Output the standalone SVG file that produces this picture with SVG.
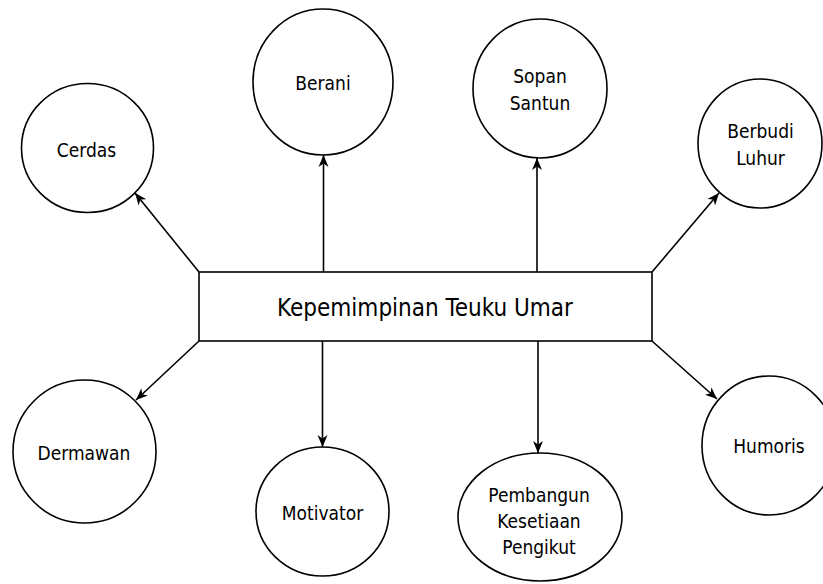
<svg xmlns="http://www.w3.org/2000/svg" width="823" height="584" viewBox="0 0 823 584">
<style>
.n{fill:#fff;stroke:#000;stroke-width:1.6}
.t{font-family:"DejaVu Sans Condensed","DejaVu Sans",sans-serif;font-size:19px;fill:#000;text-anchor:middle}
.c{stroke:#000;stroke-width:1.6;fill:none;marker-end:url(#a)}
</style>
<defs>
<marker id="a" markerUnits="userSpaceOnUse" markerWidth="13" markerHeight="11" refX="12" refY="5" orient="auto" viewBox="0 0 13 10">
<path d="M0,0 L12,5 L0,10 L3.5,5 z" fill="#000"/>
</marker>
</defs>
<rect width="823" height="584" fill="#fff"/>
<g id="connectors">
<line class="c" x1="199" y1="272" x2="135" y2="193"/>
<line class="c" x1="323.5" y1="272" x2="323.5" y2="155"/>
<line class="c" x1="537" y1="272" x2="537" y2="158"/>
<line class="c" x1="652" y1="272" x2="719" y2="193"/>
<line class="c" x1="199" y1="341" x2="136" y2="400"/>
<line class="c" x1="322.5" y1="341" x2="322.5" y2="447"/>
<line class="c" x1="538" y1="341" x2="538" y2="453"/>
<line class="c" x1="652" y1="341" x2="717" y2="399"/>
</g>
<g id="center">
<rect class="n" x="199" y="272" width="453" height="69"/>
<text class="t" x="425" y="316" style="font-size:24px">Kepemimpinan Teuku Umar</text>
</g>
<g id="cerdas">
<ellipse class="n" cx="87.5" cy="148" rx="66" ry="64.5"/>
<text class="t" x="86.5" y="157">Cerdas</text>
</g>
<g id="berani">
<ellipse class="n" cx="323" cy="82" rx="70" ry="73"/>
<text class="t" x="323" y="90">Berani</text>
</g>
<g id="sopan">
<ellipse class="n" cx="540" cy="88.5" rx="67" ry="69.5"/>
<text class="t" x="540" y="83">Sopan</text>
<text class="t" x="540" y="110">Santun</text>
</g>
<g id="berbudi">
<ellipse class="n" cx="760" cy="143.5" rx="62" ry="64.5"/>
<text class="t" x="760.5" y="138">Berbudi</text>
<text class="t" x="760.5" y="165">Luhur</text>
</g>
<g id="dermawan">
<ellipse class="n" cx="84.5" cy="451.5" rx="71.5" ry="71.5"/>
<text class="t" x="84" y="460">Dermawan</text>
</g>
<g id="motivator">
<ellipse class="n" cx="322.5" cy="511.5" rx="66.5" ry="64.5"/>
<text class="t" x="322.5" y="520">Motivator</text>
</g>
<g id="pembangun">
<ellipse class="n" cx="540" cy="517" rx="82" ry="64"/>
<text class="t" x="539" y="502">Pembangun</text>
<text class="t" x="539" y="528">Kesetiaan</text>
<text class="t" x="539" y="554">Pengikut</text>
</g>
<g id="humoris">
<ellipse class="n" cx="769" cy="445.5" rx="67" ry="69.5"/>
<text class="t" x="769" y="453">Humoris</text>
</g>
</svg>
